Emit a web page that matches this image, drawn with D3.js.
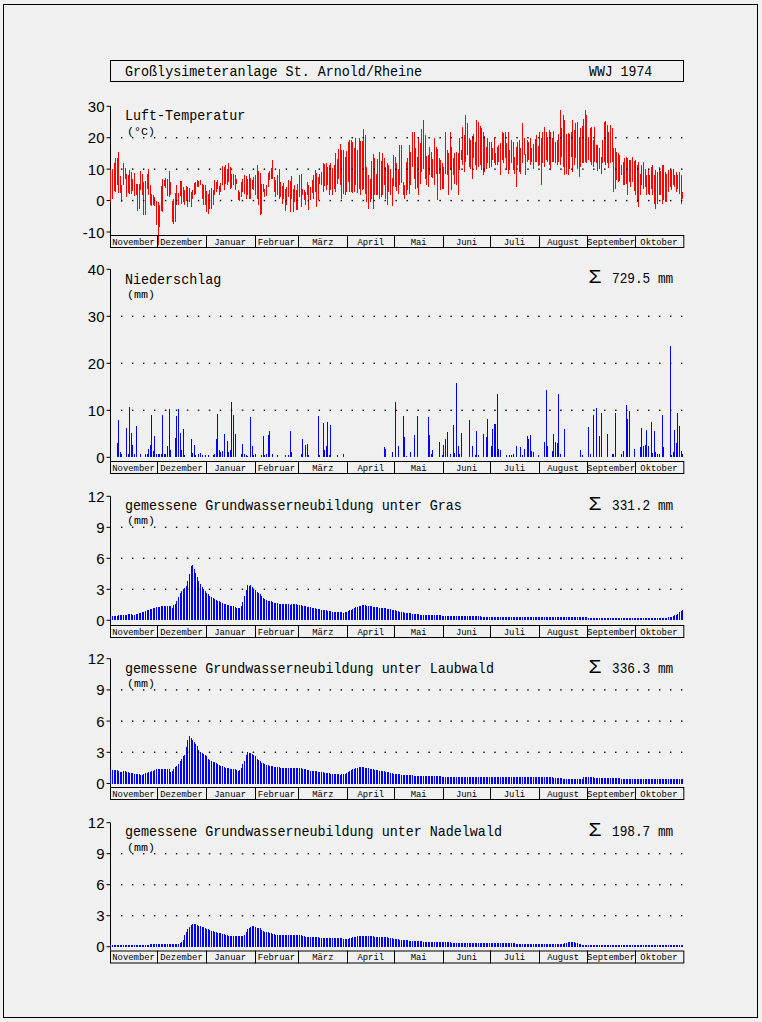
<!DOCTYPE html>
<html><head><meta charset="utf-8">
<script src="https://cdn.jsdelivr.net/npm/d3@7/dist/d3.min.js"></script>
<style>html,body{margin:0;padding:0;background:#f0f0f0;}svg{display:block;}</style>
</head><body><svg id="c" width="762" height="1022"></svg>
<script>
// ---------------- DATA ----------------
const months = ["November","Dezember","Januar","Februar","März","April","Mai","Juni","Juli","August","September","Oktober"];
const monthDays = [30,31,31,28,31,30,31,30,31,31,30,31];
const titleText = "Großlysimeteranlage St. Arnold/Rheine";
const yearText = "WWJ 1974";

// daily air temperature [max, min] (°C), per month Nov 1973 .. Oct 1974
const tempRange = [
 [[9.7,-0.6],[10,0.6],[12,3],[13.4,2.8],[13.6,5.1],[15.3,2.4],[7.8,2.4],[5,-0.6],[11.8,5.1],[10.5,7],[8.3,1.2],[8,2.4],[9.6,2.2],[9,2.2],[6.8,3.1],[8.9,1.5],[5.4,1.7],[5.4,-3.3],[5.4,-2.6],[9.4,3.3],[8.5,1.9],[6,-4.7],[6.2,-4.5],[8.5,3.6],[10,1.7],[4.9,-1.5],[2,-1.7],[1.7,-1.5],[1,-1.7],[0,-7.9]],
 [[-0.4,-14],[-1.5,-8.5],[4.6,-3.4],[7,-3.6],[6.7,4.6],[7.3,4],[7,1.5],[9.4,1.2],[6,1.7],[-0.2,-6.8],[0.4,-7.3],[2.3,-6.8],[4.9,-1.5],[2.5,-1.5],[6.2,1.5],[6.2,-1.1],[4.4,-0.4],[3.3,-1.5],[4.6,-0.2],[4.4,-2],[4,-0.4],[2.8,-2],[3.4,0.6],[5.6,1.7],[6,2.2],[6.5,4.4],[6.2,4.4],[6.5,4.9],[5.4,0.6],[5.1,-1.5],[4.9,-1.5]],
 [[3,-3.6],[2.2,-4.2],[3.3,-2.8],[4,-2.6],[3.3,-1.5],[6.5,1.7],[6,2.8],[6.5,3.8],[4.6,1.7],[5.7,2.8],[11,4.9],[10.7,3.3],[11.3,5.4],[10,4.9],[11.8,6],[10.7,3.8],[8.3,4],[8.6,5.1],[8,3.3],[7,5.4],[3.5,0.1],[2.8,-0.2],[6,1.2],[7,2.8],[8,2.2],[7.8,0.4],[7,1.7],[8.6,0.4],[7.2,0.6],[6.5,3.8],[7.5,3.3]],
 [[8,1.7],[11.3,0.6],[9.4,-1.5],[8.9,-4.7],[5.4,-4.2],[5.4,2.8],[3.8,1.2],[4.9,1.5],[8.9,4.4],[9.4,6.5],[10.4,7],[12.9,7],[7.5,2.8],[6.5,1.2],[8,1.7],[10.2,0.4],[6,1.2],[4.6,-1],[5.7,0.6],[3.8,-3.4],[4.4,-1.5],[6.5,1.2],[6.2,-3.6],[7.8,0.6],[3.8,-3.6],[4.9,-0.4],[3.3,-3.1],[5.4,-3.1]],
 [[8,1.2],[8.4,-2],[3.8,1.7],[3.3,0.1],[2.8,-1.5],[6,1.7],[4.9,-3.1],[4.4,0.1],[6.5,2.5],[8,0.6],[9.7,2.8],[8.9,-2],[7.5,0.1],[8.3,5.4],[9.1,4.9],[11.8,2.8],[11.5,4.6],[11.8,3.3],[10.7,4.9],[11.3,1.7],[12.1,3.3],[10.4,1.7],[11.3,3.8],[15,2.8],[13.2,5.4],[16.4,7],[17.9,4.9],[16.1,0.6],[16.1,2.2],[13.9,1.7],[15.8,2.8]],
 [[18.5,6],[19.3,2.8],[19.3,2.8],[18.7,2.5],[16.6,2.8],[20,4.9],[16.1,2.5],[19.8,3.8],[19,1.7],[19,3.3],[22.8,3.8],[21,2.2],[10.7,-0.4],[8,-2.6],[7,-0.4],[12.6,0.6],[14.7,-2.6],[13.4,1.7],[8.3,1.7],[13.2,1.7],[15.3,0.6],[12.6,1.2],[15,1.7],[13.4,4.9],[10.7,0.6],[11.8,-1.5],[11.3,2.8],[10,1.9],[7.2,-1.8],[14.5,4.6]],
 [[13.9,4.4],[12,3],[10,2.2],[17.7,4.9],[17.7,5.7],[5.9,1.7],[5.1,0.6],[12.3,1.7],[13.4,3.3],[17.7,2.2],[15.5,5.1],[21.7,10.7],[21.7,7],[16.6,3.8],[14,4],[20.3,1.7],[18.2,5.4],[22.9,9.1],[25.6,10],[20.9,7],[14.3,5.1],[14.5,4.4],[17.1,8.1],[15.5,7.6],[13.2,7.2],[19.8,4.9],[17.1,8.6],[16.4,0.1],[13.4,8.6],[12.9,3.4],[12.1,3.8]],
 [[10.7,3.8],[21.9,8.6],[16.1,8.1],[15,1.7],[21.9,9.7],[17.1,3.3],[13.4,8.1],[15,5.4],[15.5,4.9],[15,1.7],[19.8,9.7],[16.1,12.9],[23.5,11.3],[20.9,9.1],[27.3,12.3],[24.6,14.5],[19.8,10.7],[19.3,10.2],[20.6,7],[21.1,13.4],[18.7,11.3],[25.6,9.7],[25.1,10.7],[23.8,11.3],[23,9.7],[21.9,8.1],[20.5,9],[17.1,10.2],[19.8,11.8],[18.5,10.5]],
 [[18.7,10.7],[16.6,12.9],[19.8,11.8],[15,11.3],[17.1,11.3],[17.7,12.3],[18.2,8.1],[21.9,12.9],[21.4,11.8],[21.7,13.4],[18.2,9.7],[21.9,8.6],[16.1,9.7],[19.3,11.8],[18.7,9.7],[13.9,8.6],[17.1,4.4],[18.7,11.3],[19.3,9.1],[16.8,8.6],[24.6,11.8],[19.8,14.5],[14.7,8.1],[19.3,12.3],[18.7,12.9],[20,11.3],[16.6,12.3],[18,10],[19.6,12.3],[20.9,12.3],[17.5,11]],
 [[21.9,11.3],[20,4.9],[21.9,11.8],[23.5,10.7],[21.9,12.9],[20.3,12.3],[22.5,11.3],[21.9,9.7],[19.8,12.3],[22.1,12.3],[18.7,11.8],[19.3,11.3],[21.1,12.3],[28.8,11.3],[23,14],[27.3,10.7],[25.7,8.1],[21.1,8.6],[21.4,8.1],[21.1,10.2],[21.9,14],[25.7,9.1],[22.5,11.3],[24.6,13.4],[25.1,10.2],[20.3,7.6],[23,10.7],[23.8,11.8],[26,12],[28.8,12.3],[27.3,12]],
 [[20.3,12.9],[23,12.3],[23.5,11.3],[19.3,10.7],[23.5,12.3],[17.7,11.8],[17.7,9.4],[16.6,10],[13.9,8.6],[19.3,11.8],[25.1,12.3],[25.3,11.3],[24,11.8],[21.9,10.4],[24,11.8],[23,12.3],[16.6,2.8],[16.8,3.8],[15.5,6.5],[15,5.9],[14.5,6.2],[11.3,8.1],[12.3,4.9],[13.4,4.9],[13.9,5.4],[13.6,1.7],[12.9,5.9],[12.9,4.4],[14,6],[12.5,3]],
 [[12.9,1.7],[11.3,-0.4],[12.3,-2],[8.6,1.7],[11.3,4.9],[12.3,3.8],[10.2,4.4],[8.1,1.7],[10.2,2.2],[8.1,1.7],[10.7,3.8],[11.3,1.7],[8.1,-1],[9.7,-2.6],[9.1,-1],[10.7,1.7],[9.4,1.7],[11.3,-1],[11.3,0.1],[9.1,-0.4],[8.6,-0.4],[9.7,2.8],[10.2,4.4],[9.7,3.3],[10.2,4.9],[8.1,4.4],[9.1,2.8],[8.1,3.8],[9,2],[8.1,-1],[2.8,0.6]]
];

// daily precipitation (mm)
const precip = [
 [0,0,0,0,3,8,1.2,0.6,0,0.1,6.3,0.6,10.8,5.1,2.7,0.8,6.6,0,0,0.6,0,0,0.6,0.8,1.8,2.7,9.1,1.4,4.5,0.8],
 [0.8,0.6,0.8,9.1,0.8,0.8,2.5,10.3,1.6,0,0,4.2,8.8,10.3,5.2,1.6,6.1,0.4,0,0,0,4,1,2.7,0.4,0,0.6,1,0.4,0,0.4],
 [0,0.4,0,0,0.4,0.6,3.8,9.3,1.6,1.2,1.4,5,0,3.5,1.2,1.6,11.8,9.1,5,0,0,0,0.6,2.9,0.6,0.4,0.2,0,8.6,2.3,0.4],
 [0.6,0,0,0,0.4,4.6,0.4,0.6,4.8,5.7,0,0.8,0,0,0.4,0,0,0,0,0.4,0,0.4,5.7,1.2,0,0,0,0],
 [0,0.8,3.8,0,2.7,2.9,0.4,0,0,0,0,0,8.8,0.4,0,7.4,1.6,2.3,7.6,0.4,6.9,0,0,0,0.4,0,0,0,0.6,0,0],
 [0,0,0,0,0,0,0,0,0,0,0,0,0,0,0,0,0,0,0,0,0,0,0,2.1,1.8,0,0,0,1.2,0],
 [11.8,0,2.5,0,0,8.8,4.4,0.2,0,0,1.2,0,4.8,0,8.8,0,0,0,0,0,0,8.6,4.8,0.6,1.6,0,0,0,3.3,0,0.4],
 [2.7,4,5.4,0,0.6,0,6.9,1,15.9,2.3,0.8,5.2,0,0,0,0,8,0,2.3,0,0.4,5.7,0.4,0,0,5,0,4.4,8.2,0],
 [2.3,6.1,7.1,7.1,13.5,1.8,1.6,0,0,0,0.4,0,0.4,0.4,0.6,0,2.5,0,0,2.1,0.4,1.8,0,4.6,3.8,4.8,1.4,1.2,0,0,0.4],
 [0,0,0,3.3,14.4,2.3,0,0,1.4,5,3.3,3,13.5,0.6,0,0,6.1,0,0,0,0,0,0,0,0,0,1.6,0.4,0,0,0],
 [6.5,0.6,0,9.1,0,10.5,0,4.6,9.5,0,0,0,5,0,0,0.6,0.6,9.5,0,0,0,0.6,1.4,0,11.2,8.2,9.9,0,0,1.8],
 [0,0,0,2.1,6.3,2.3,2.7,5.8,2.5,0,7.6,1,5.7,1.1,0.8,0.6,0,9.1,2.1,0,0,0,23.7,0.4,1.2,5.9,3.1,9.5,6.7,1.4,0.8]
];

// measured groundwater recharge (mm/day) under grass
const gwGras = [
 [0.4,0.4,0.42,0.45,0.45,0.47,0.5,0.5,0.5,0.55,0.55,0.58,0.6,0.6,0.55,0.55,0.6,0.65,0.7,0.75,0.8,0.85,0.9,0.95,1.0,1.05,1.1,1.15,1.2,1.25],
 [1.3,1.3,1.35,1.35,1.4,1.35,1.4,1.4,1.35,1.15,1.45,1.6,1.9,2.3,2.6,2.8,3.0,3.1,3.3,3.8,4.5,5.3,5.4,5.0,4.6,4.2,3.8,3.5,3.2,3.0,2.8],
 [2.6,2.5,2.4,2.3,2.2,2.1,2.0,1.9,1.85,1.8,1.7,1.6,1.55,1.5,1.45,1.4,1.4,1.35,1.3,1.2,1.15,1.2,1.35,1.8,2.4,2.9,3.4,3.3,3.4,3.2,3.0],
 [2.9,2.7,2.6,2.5,2.4,2.2,2.1,1.95,1.9,1.9,1.85,1.8,1.7,1.7,1.65,1.6,1.6,1.6,1.55,1.6,1.55,1.55,1.5,1.6,1.6,1.6,1.55,1.5],
 [1.5,1.45,1.4,1.4,1.35,1.3,1.3,1.25,1.2,1.2,1.15,1.1,1.1,1.05,1.0,1.0,0.95,0.95,0.9,0.9,0.9,0.85,0.85,0.85,0.8,0.8,0.8,0.8,0.75,0.8,0.85],
 [0.9,0.95,1.0,1.1,1.2,1.25,1.3,1.35,1.4,1.45,1.5,1.45,1.4,1.4,1.35,1.35,1.3,1.3,1.3,1.25,1.2,1.2,1.2,1.15,1.15,1.1,1.1,1.05,1.0,1.0],
 [0.95,0.9,0.9,0.85,0.8,0.8,0.75,0.75,0.7,0.7,0.68,0.65,0.6,0.6,0.58,0.57,0.56,0.55,0.55,0.54,0.53,0.52,0.5,0.5,0.5,0.5,0.48,0.48,0.47,0.47,0.46],
 [0.45,0.45,0.45,0.44,0.44,0.43,0.43,0.42,0.42,0.42,0.41,0.41,0.4,0.4,0.4,0.4,0.39,0.39,0.38,0.38,0.38,0.37,0.37,0.37,0.36,0.36,0.36,0.35,0.35,0.35],
 [0.35,0.35,0.35,0.34,0.34,0.34,0.34,0.33,0.33,0.33,0.33,0.32,0.32,0.32,0.32,0.31,0.31,0.31,0.31,0.31,0.3,0.3,0.3,0.3,0.3,0.3,0.3,0.3,0.3,0.3,0.3],
 [0.3,0.3,0.3,0.3,0.3,0.3,0.3,0.3,0.3,0.3,0.3,0.3,0.3,0.3,0.3,0.3,0.3,0.29,0.29,0.29,0.29,0.29,0.29,0.29,0.28,0.28,0.28,0.28,0.28,0.28,0.28],
 [0.25,0.2,0.2,0.2,0.2,0.21,0.21,0.22,0.22,0.22,0.22,0.22,0.22,0.22,0.22,0.22,0.22,0.21,0.21,0.21,0.21,0.21,0.21,0.21,0.2,0.2,0.2,0.2,0.2,0.2],
 [0.2,0.2,0.2,0.2,0.2,0.2,0.2,0.2,0.2,0.2,0.2,0.2,0.2,0.2,0.2,0.2,0.2,0.22,0.25,0.25,0.27,0.3,0.33,0.36,0.4,0.47,0.55,0.65,0.8,0.9,1.0]
];

// under deciduous forest
const gwLaub = [
 [1.3,1.3,1.3,1.3,1.3,1.2,1.1,1.1,1.2,1.2,1.15,1.1,1.05,1.0,1.0,0.95,0.95,0.9,0.9,0.85,0.85,0.9,1.0,1.05,1.1,1.15,1.2,1.25,1.3,1.35],
 [1.4,1.4,1.4,1.4,1.4,1.4,1.4,1.4,1.1,1.2,1.4,1.55,1.7,1.9,2.2,2.4,2.6,2.75,3.5,4.2,4.6,4.4,4.2,4.0,3.8,3.6,3.2,3.0,2.9,2.8,2.7],
 [2.6,2.4,2.3,2.2,2.1,2.05,2.0,1.85,1.8,1.7,1.65,1.55,1.5,1.45,1.45,1.4,1.4,1.35,1.35,1.3,1.25,1.3,1.5,1.9,2.2,2.7,3.0,2.95,2.95,2.8,2.75],
 [2.6,2.4,2.3,2.2,2.0,1.95,1.85,1.8,1.75,1.7,1.65,1.65,1.6,1.6,1.55,1.55,1.5,1.5,1.5,1.45,1.5,1.5,1.5,1.45,1.5,1.5,1.5,1.5],
 [1.45,1.45,1.4,1.35,1.35,1.3,1.3,1.25,1.25,1.2,1.2,1.2,1.15,1.15,1.1,1.1,1.05,1.05,1.0,1.0,0.95,0.95,0.95,0.9,0.9,0.9,0.85,0.9,0.95,0.95,1.05],
 [1.1,1.2,1.3,1.35,1.4,1.45,1.5,1.55,1.6,1.6,1.55,1.5,1.5,1.45,1.4,1.35,1.35,1.3,1.3,1.3,1.25,1.2,1.2,1.2,1.15,1.1,1.1,1.05,1.0,0.95],
 [0.95,0.9,0.9,0.88,0.85,0.85,0.83,0.82,0.8,0.8,0.78,0.77,0.76,0.75,0.75,0.74,0.73,0.73,0.72,0.72,0.71,0.71,0.7,0.7,0.7,0.7,0.69,0.69,0.68,0.68,0.67],
 [0.66,0.66,0.65,0.65,0.65,0.65,0.64,0.64,0.64,0.63,0.63,0.63,0.62,0.62,0.62,0.62,0.62,0.61,0.61,0.61,0.61,0.6,0.6,0.6,0.6,0.6,0.6,0.6,0.6,0.6],
 [0.6,0.6,0.6,0.6,0.6,0.6,0.6,0.6,0.6,0.6,0.6,0.6,0.6,0.6,0.6,0.6,0.6,0.6,0.6,0.6,0.6,0.6,0.6,0.6,0.6,0.6,0.6,0.6,0.6,0.6,0.6],
 [0.6,0.6,0.6,0.6,0.6,0.62,0.63,0.65,0.62,0.55,0.55,0.53,0.52,0.5,0.5,0.48,0.47,0.45,0.45,0.44,0.43,0.42,0.4,0.4,0.4,0.4,0.4,0.45,0.6,0.6,0.6],
 [0.6,0.6,0.59,0.58,0.57,0.56,0.55,0.55,0.55,0.55,0.54,0.53,0.52,0.52,0.51,0.5,0.5,0.5,0.5,0.5,0.49,0.48,0.47,0.46,0.45,0.45,0.45,0.45,0.45,0.45],
 [0.45,0.45,0.45,0.45,0.45,0.45,0.45,0.44,0.44,0.43,0.43,0.43,0.42,0.42,0.42,0.41,0.41,0.4,0.4,0.4,0.4,0.4,0.4,0.4,0.41,0.42,0.43,0.44,0.45,0.45,0.45]
];

// under coniferous forest
const gwNadel = [
 [0.13,0.13,0.13,0.13,0.13,0.13,0.13,0.13,0.13,0.13,0.13,0.13,0.13,0.13,0.13,0.13,0.13,0.13,0.13,0.13,0.13,0.13,0.13,0.13,0.13,0.25,0.25,0.25,0.25,0.25],
 [0.25,0.25,0.25,0.25,0.25,0.25,0.25,0.25,0.25,0.25,0.25,0.25,0.25,0.25,0.35,0.5,0.65,1.1,1.45,1.7,1.95,2.1,2.15,2.15,2.15,2.1,2.05,2.0,1.95,1.9,1.8],
 [1.75,1.7,1.6,1.55,1.5,1.45,1.4,1.35,1.32,1.3,1.25,1.2,1.15,1.1,1.05,1.0,1.0,1.0,1.0,1.0,1.0,1.0,1.0,1.05,1.15,1.4,1.7,1.8,1.9,2.0,2.0],
 [1.9,1.85,1.85,1.8,1.6,1.5,1.45,1.45,1.4,1.35,1.3,1.25,1.2,1.15,1.1,1.1,1.1,1.1,1.1,1.1,1.1,1.1,1.1,1.1,1.1,1.1,1.1,1.1],
 [1.1,1.1,1.05,1.0,0.95,0.95,0.95,0.95,0.95,0.95,0.95,0.95,0.9,0.85,0.85,0.85,0.85,0.85,0.85,0.85,0.85,0.85,0.85,0.85,0.85,0.85,0.85,0.8,0.75,0.75,0.75],
 [0.78,0.8,0.85,0.9,0.95,0.98,1.0,1.02,1.05,1.05,1.05,1.05,1.02,1.0,1.0,1.0,1.0,0.98,0.97,0.95,0.95,0.95,0.95,0.93,0.92,0.9,0.88,0.85,0.8,0.78],
 [0.75,0.72,0.7,0.68,0.65,0.64,0.63,0.62,0.61,0.6,0.59,0.58,0.56,0.55,0.54,0.53,0.52,0.51,0.5,0.5,0.49,0.48,0.47,0.46,0.45,0.45,0.44,0.44,0.43,0.43,0.42],
 [0.42,0.42,0.41,0.41,0.41,0.4,0.4,0.4,0.4,0.39,0.39,0.39,0.38,0.38,0.38,0.38,0.37,0.37,0.37,0.37,0.36,0.36,0.36,0.36,0.35,0.35,0.35,0.35,0.35,0.35],
 [0.35,0.34,0.34,0.34,0.33,0.33,0.33,0.33,0.32,0.32,0.32,0.32,0.31,0.31,0.31,0.31,0.3,0.3,0.3,0.3,0.3,0.3,0.3,0.29,0.29,0.29,0.28,0.28,0.28,0.28,0.27],
 [0.27,0.27,0.27,0.27,0.27,0.27,0.27,0.27,0.27,0.27,0.27,0.27,0.27,0.27,0.28,0.3,0.35,0.4,0.42,0.45,0.45,0.45,0.43,0.4,0.38,0.3,0.25,0.18,0.12,0.12,0.12],
 [0.12,0.12,0.12,0.12,0.12,0.12,0.12,0.12,0.12,0.12,0.12,0.12,0.12,0.12,0.12,0.12,0.12,0.12,0.12,0.12,0.12,0.12,0.12,0.12,0.12,0.12,0.12,0.12,0.12,0.12],
 [0.12,0.12,0.12,0.12,0.12,0.12,0.12,0.12,0.12,0.12,0.12,0.12,0.12,0.12,0.12,0.12,0.12,0.12,0.12,0.12,0.12,0.12,0.12,0.12,0.12,0.12,0.12,0.12,0.12,0.12,0.12]
];

const sums = {precip:"729.5", gras:"331.2", laub:"336.3", nadel:"198.7"};

// ---------------- DRAWING ----------------
function flat(arr, name){
  arr.forEach((m,i)=>{ if(m.length!==monthDays[i]) throw new Error(name+" month "+i+" has "+m.length); });
  return arr.flat();
}
const T = flat(tempRange,"temp");
const P = flat(precip,"precip");
const G1 = flat(gwGras,"gras"), G2 = flat(gwLaub,"laub"), G3 = flat(gwNadel,"nadel");

const svg = d3.select("#c");
const MONO = "'Liberation Mono','DejaVu Sans Mono',monospace";
const SANS = "'Liberation Sans','DejaVu Sans',sans-serif";
const X0 = 110, X1 = 683.3;
const x = d3.scaleLinear().domain([0,365]).range([X0,X1]);
const cx = d => x(d+1) - 0.6;
const cum = [0]; monthDays.forEach(n=>cum.push(cum[cum.length-1]+n));

svg.append("rect").attr("x",0).attr("y",0).attr("width",762).attr("height",1022).attr("fill","#f0f0f0");
// outer frame
svg.append("rect").attr("x",3.5).attr("y",4.5).attr("width",754).attr("height",1013)
  .attr("fill","none").attr("stroke","#000").attr("stroke-width",1);

// title box
svg.append("rect").attr("x",110.5).attr("y",60.5).attr("width",573).attr("height",21)
  .attr("fill","none").attr("stroke","#000").attr("stroke-width",1);
function mtext(str, px, py, size, len){
  const t = svg.append("text").attr("x",px).attr("y",py).attr("font-family",MONO)
    .attr("font-size",size).attr("fill","#000").text(str);
  if(len) t.attr("textLength",len).attr("lengthAdjust","spacingAndGlyphs");
  return t;
}
mtext(titleText,125,76,14,titleText.length*8.03);
mtext(yearText,589,76,14,yearText.length*7.9);

function panel(cfg){
  const y = d3.scaleLinear().domain(cfg.domain).range(cfg.range);
  const g = svg.append("g");
  // axis line
  g.append("line").attr("x1",X0+0.5).attr("x2",X0+0.5).attr("y1",y(cfg.domain[1])).attr("y2",cfg.band)
    .attr("stroke","#000").attr("stroke-width",1);
  // ticks + labels
  cfg.ticks.forEach(v=>{
    g.append("line").attr("x1",106.5).attr("x2",110.5).attr("y1",y(v)).attr("y2",y(v)).attr("stroke","#000");
    g.append("text").attr("x",104.5).attr("y",y(v)+5.5).attr("text-anchor","end")
      .attr("font-family",SANS).attr("font-size",15).attr("fill","#000").text(v);
  });
  // bars
  cfg.draw(g,y);
  // dotted grid lines
  cfg.dots.forEach(v=>{
    const xs = d3.range(0,52).map(i=>121.7+i*10.98);
    g.selectAll(null).data(xs).enter().append("rect")
      .attr("x",d=>d-0.7).attr("y",y(v)-0.7).attr("width",1.4).attr("height",1.4).attr("fill","#000");
  });
  // month band
  const bh = 12;
  g.append("rect").attr("x",X0+0.5).attr("y",cfg.band+0.5).attr("width",X1-X0).attr("height",bh)
    .attr("fill","none").attr("stroke","#000");
  cum.slice(1,-1).forEach(c=>{
    g.append("line").attr("x1",Math.round(x(c))+0.5).attr("x2",Math.round(x(c))+0.5)
      .attr("y1",cfg.band).attr("y2",cfg.band+bh+1).attr("stroke","#000");
  });
  months.forEach((m,i)=>{
    const mid = (x(cum[i])+x(cum[i+1]))/2;
    g.append("text").attr("x",mid).attr("y",cfg.band+9.6).attr("text-anchor","middle")
      .attr("font-family",MONO).attr("font-size",9.5).attr("fill","#000")
      .attr("textLength",m.length*5.33).attr("lengthAdjust","spacingAndGlyphs").text(m);
  });
  // titles
  mtext(cfg.title,125,cfg.titleY,15,cfg.title.length*8.02);
  mtext(cfg.unit,127,cfg.unitY,10.5,28);
  if(cfg.sum){
    svg.append("text").attr("x",588.5).attr("y",cfg.sumY).attr("font-family",SANS).attr("font-size",19)
      .attr("fill","#000").attr("textLength",13).attr("lengthAdjust","spacingAndGlyphs").text("Σ");
    const s = cfg.sum+" mm";
    mtext(s,612,cfg.sumY,15,s.length*7.65);
  }
}

function barsUp(data){
  return (g,y)=>{
    g.selectAll(null).data(data.map((v,i)=>({v,i})).filter(d=>d.v>0)).enter().append("rect")
      .attr("x",d=>cx(d.i)-0.5).attr("width",1)
      .attr("y",d=>y(d.v)).attr("height",d=>Math.max(0.6,y(0)-y(d.v)))
      .attr("fill","#0000ff").attr("shape-rendering","crispEdges");
  };
}

panel({domain:[-10,30], range:[232,106.3], ticks:[30,20,10,0,-10], dots:[20,10,0], band:235,
  title:"Luft-Temperatur", unit:"(°C)", titleY:120, unitY:134.5,
  draw:(g,y)=>{
    g.selectAll(null).data(T.map((v,i)=>({mx:v[0],mn:v[1],i}))).enter().append("rect")
      .attr("x",d=>cx(d.i)-0.5).attr("width",1)
      .attr("y",d=>y(d.mx)).attr("height",d=>Math.max(1,y(d.mn)-y(d.mx)))
      .attr("fill","#ff0000").attr("shape-rendering","crispEdges");
  }});
panel({domain:[0,40], range:[457.3,269.3], ticks:[40,30,20,10,0], dots:[30,20,10], band:461,
  title:"Niederschlag", unit:"(mm)", titleY:284, unitY:297.5, sum:sums.precip, sumY:283, draw:barsUp(P)});
panel({domain:[0,12], range:[620.3,496.3], ticks:[12,9,6,3,0], dots:[9,6,3], band:625,
  title:"gemessene Grundwasserneubildung unter Gras", unit:"(mm)", titleY:510, unitY:523.5,
  sum:sums.gras, sumY:509.5, draw:barsUp(G1)});
panel({domain:[0,12], range:[783.5,658.7], ticks:[12,9,6,3,0], dots:[9,6,3], band:787,
  title:"gemessene Grundwasserneubildung unter Laubwald", unit:"(mm)", titleY:673.3, unitY:687,
  sum:sums.laub, sumY:672.5, draw:barsUp(G2)});
panel({domain:[0,12], range:[946.7,822.7], ticks:[12,9,6,3,0], dots:[9,6,3], band:950.5,
  title:"gemessene Grundwasserneubildung unter Nadelwald", unit:"(mm)", titleY:836, unitY:850.5,
  sum:sums.nadel, sumY:835.5, draw:barsUp(G3)});
</script></body></html>
